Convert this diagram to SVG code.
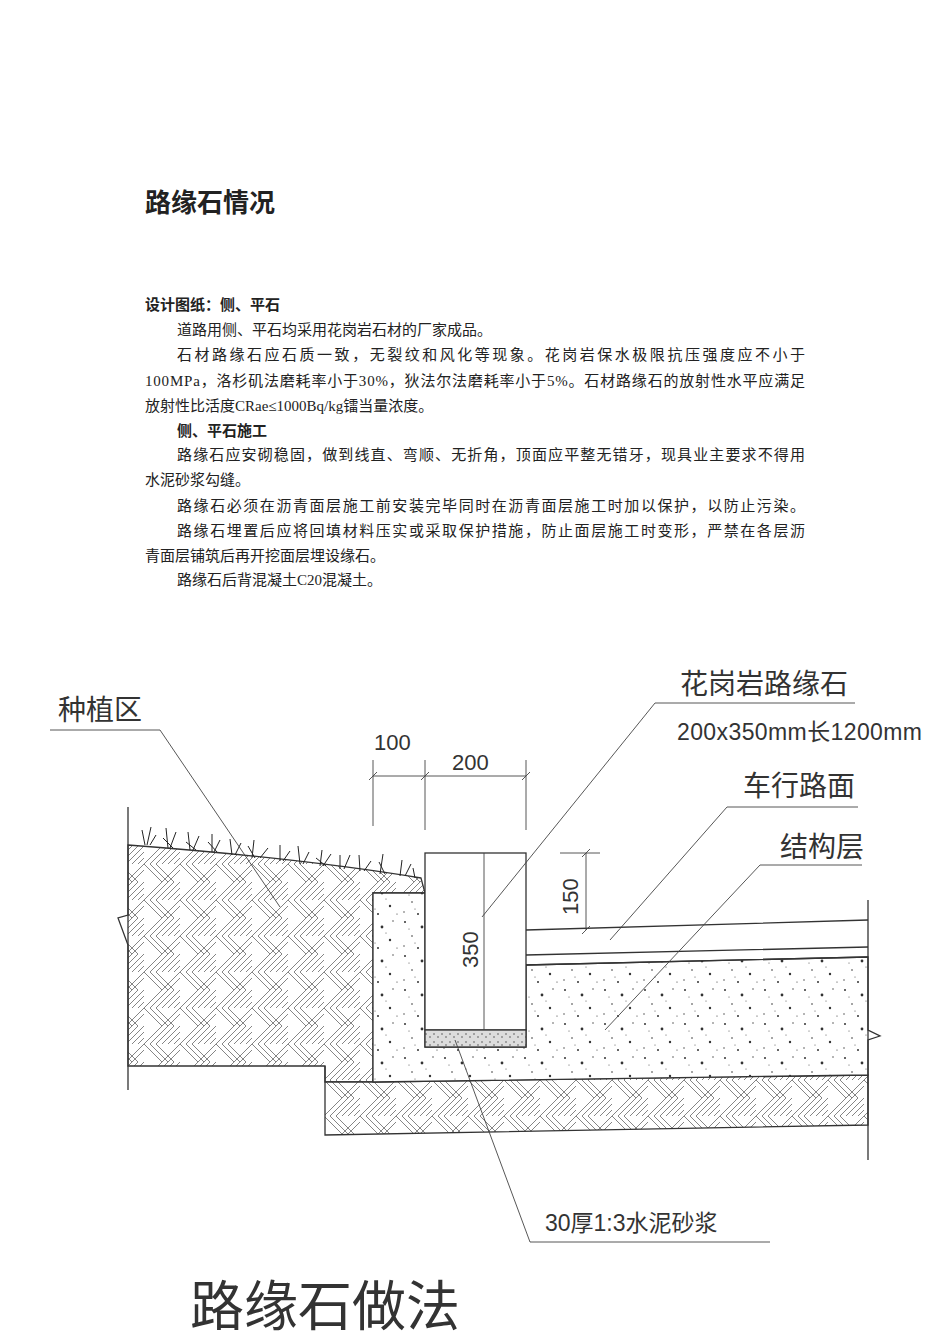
<svg xmlns="http://www.w3.org/2000/svg" width="950" height="1344" viewBox="0 0 950 1344">
<style>
.t{font-family:"Liberation Serif","Noto Sans CJK SC",serif;font-size:15px;fill:#222}
.b{font-weight:bold}
.d{font-family:"Liberation Sans","Noto Sans CJK SC",sans-serif;fill:#333}
.ln{stroke:#333;stroke-width:1.3;fill:none}
.thin{stroke:#444;stroke-width:0.9;fill:none}
</style>
<defs>
<pattern id="hb" width="36" height="36" patternUnits="userSpaceOnUse">
<rect width="36" height="36" fill="#fff"/>
<path d="M0 0L18 18M6 0L24 18M12 0L30 18M18 18L36 0M24 18L36 6M18 18L0 36M24 18L6 36M30 18L12 36M18 36L36 18M24 36L36 24M30 36L36 30" stroke="#666" stroke-width="0.8"/>
</pattern>
<pattern id="cc" width="40" height="34" patternUnits="userSpaceOnUse">
<rect width="40" height="34" fill="#fff"/>
<g fill="#333"><circle cx="5" cy="4" r="1"/><circle cx="22" cy="9" r="1.4"/><circle cx="33" cy="3" r=".7"/><circle cx="12" cy="18" r=".8"/><circle cx="30" cy="22" r="1.2"/><circle cx="4" cy="28" r=".7"/><circle cx="18" cy="30" r="1"/><circle cx="37" cy="30" r=".6"/><circle cx="26" cy="15" r=".5"/><circle cx="9" cy="11" r=".5"/><circle cx="15" cy="25" r=".5"/></g>
</pattern>
<pattern id="mo" width="8" height="8" patternUnits="userSpaceOnUse">
<rect width="8" height="8" fill="#ddd"/><circle cx="2" cy="2" r=".8" fill="#555"/><circle cx="6" cy="5" r=".8" fill="#555"/>
</pattern>
</defs>
<rect width="950" height="1344" fill="#fff"/>
<g id="text">
<text class="t b" x="145" y="212" style="font-size:26px">路缘石情况</text>
<text class="t b" x="145" y="310">设计图纸：侧、平石</text>
<text class="t" x="177" y="335">道路用侧、平石均采用花岗岩石材的厂家成品。</text>
<text class="t" x="177" y="360" textLength="628">石材路缘石应石质一致，无裂纹和风化等现象。花岗岩保水极限抗压强度应不小于</text>
<text class="t" x="145" y="386" textLength="660">100MPa，洛杉矶法磨耗率小于30%，狄法尔法磨耗率小于5%。石材路缘石的放射性水平应满足</text>
<text class="t" x="145" y="411">放射性比活度CRae≤1000Bq/kg镭当量浓度。</text>
<text class="t b" x="177" y="436">侧、平石施工</text>
<text class="t" x="177" y="460" textLength="628">路缘石应安砌稳固，做到线直、弯顺、无折角，顶面应平整无错牙，现具业主要求不得用</text>
<text class="t" x="145" y="485">水泥砂浆勾缝。</text>
<text class="t" x="177" y="511" textLength="628">路缘石必须在沥青面层施工前安装完毕同时在沥青面层施工时加以保护，以防止污染。</text>
<text class="t" x="177" y="536" textLength="628">路缘石埋置后应将回填材料压实或采取保护措施，防止面层施工时变形，严禁在各层沥</text>
<text class="t" x="145" y="561">青面层铺筑后再开挖面层埋设缘石。</text>
<text class="t" x="177" y="585">路缘石后背混凝土C20混凝土。</text>
</g>
<g id="soil-left"><path d="M128 845Q300 858 421 878L425 893L373 893L373 1082L325 1082L325 1066L128 1066Z" class="ln" style="fill:url(#hb)"/></g>
<g id="soil-bottom"><path d="M325 1066L325 1135L868 1125L868 1075L373 1082L325 1082Z" class="ln" style="fill:url(#hb)"/></g>
<g id="concrete"><path d="M373 893L425 893L425 1047L526 1047L526 965L868 957L868 1075L373 1082Z" class="ln" style="fill:url(#cc)"/></g>
<g id="pavement"><path d="M526 930L868 920M526 955L868 947M526 965L868 957" class="ln"/></g>
<g id="curb"><rect x="425" y="853" width="101" height="177" class="ln" style="fill:#fff"/><rect x="425" y="1030" width="101" height="17" class="ln" style="fill:url(#mo)"/><line x1="484" y1="853" x2="484" y2="1030" class="thin"/></g>
<g id="edges" class="ln">
<path d="M128 807L128 915L118 918L128 945L128 1090"/>
<path d="M868 900L868 1030L880 1036L868 1040L868 1160"/>
</g>
<g id="grass" stroke="#222" stroke-width="1" fill="none">
<path d="M145 845l-3-15M147 845l4-18M150 845l6-10M168 848l-2-20M170 848l6-16M173 848l-10-10M190 850l-2-18M193 850l6-14M196 850l-10-8M212 852l0-18M214 852l6-12M217 852l-9-10M232 855l-2-16M235 855l6-12M252 858l2-18M255 858l-7-12M260 858l8-10M280 861l0-16M283 861l7-10M300 864l-2-18M303 864l6-12M320 866l2-16M323 866l8-12M326 866l-10-8M340 869l0-14M344 869l6-14M360 871l-1-16M364 871l7-10M380 874l3-20M385 874l-6-12M400 876l2-16M405 876l6-12M415 878l-2-10"/>
</g>
<g id="dims" class="thin">
<path d="M373 776L526 776M373 760L373 826M425 760L425 830M526 760L526 830M369 780L377 772M421 780L429 772M522 780L530 772"/>
<path d="M586 853L586 930M560 853L600 853M582 857L590 849M582 934L590 926"/>
</g>
<g id="dimtext" class="d" font-size="22">
<text x="374" y="750">100</text>
<text x="452" y="770">200</text>
<text transform="translate(578 915) rotate(-90)">150</text>
<text transform="translate(478 968) rotate(-90)">350</text>
</g>
<g id="connectors" class="thin">
<path d="M50 730L160 730L280 907"/>
<path d="M855 703L655 703L482 917"/>
<path d="M858 807L727 807L610 940"/>
<path d="M862 865L760 865L605 1030"/>
<path d="M770 1242L530 1242L455 1040"/>
</g>
<g id="labels" class="d" font-size="28">
<text x="58" y="720">种植区</text>
<text x="680" y="694">花岗岩路缘石</text>
<text x="677" y="740" font-size="23" textLength="245">200x350mm长1200mm</text>
<text x="743" y="796">车行路面</text>
<text x="780" y="857">结构层</text>
<text x="545" y="1231" font-size="23">30厚1:3水泥砂浆</text>
<text x="190" y="1326" font-size="54">路缘石做法</text>
</g>
</svg>
